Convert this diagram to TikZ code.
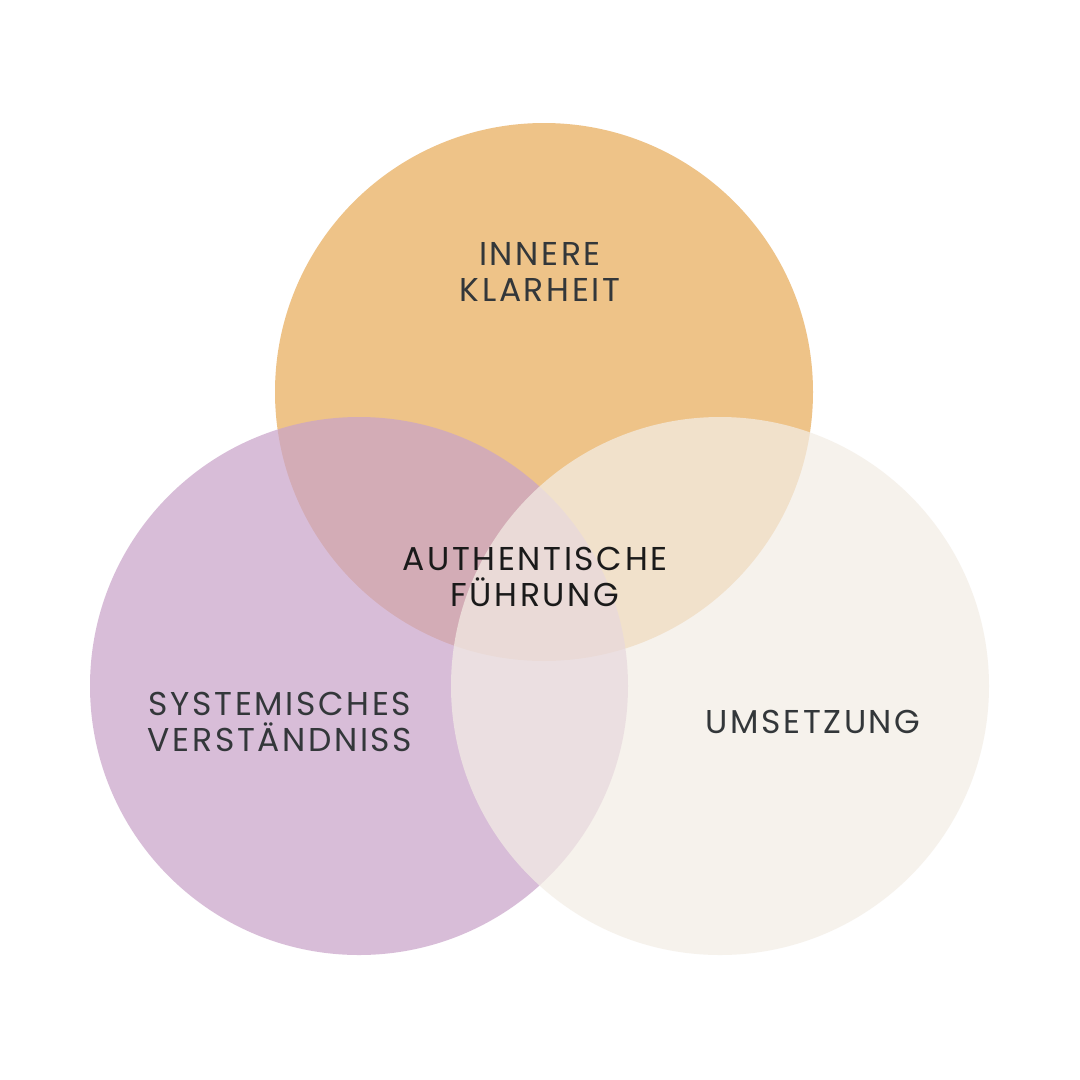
\documentclass[tikz,border=0pt]{standalone}
\usepackage{fontspec}
\setmainfont{Poppins}[LetterSpace=8]
\definecolor{orangec}{HTML}{EEC388}
\definecolor{purplec}{HTML}{C9A3C9}
\definecolor{creamc}{HTML}{F3EDE5}
\definecolor{textc}{HTML}{33373A}
\definecolor{textd}{HTML}{1A1A1A}
\begin{document}
\begin{tikzpicture}[x=1pt,y=-1pt,
  lbl/.style={font=\fontsize{33}{36.5}\selectfont, text=textc, align=center, inner sep=0pt}]
\useasboundingbox[fill=white] (0,0) rectangle (1080,1080);
\fill[orangec] (544,392) circle (269);
\fill[purplec, fill opacity=0.71] (359,686) circle (269);
\fill[creamc, fill opacity=0.72] (720,686) circle (269);
\node[lbl] (top) at (540,272) {INNERE\\KLARHEIT};
\node[lbl, text=textd] (mid) at (535,577) {AUTHENTISCHE\\FÜHRUNG};
\node[lbl] (left) at (280,722) {SYSTEMISCHES\\VERSTÄNDNISS};
\node[lbl] (right) at (813,722) {UMSETZUNG};
\end{tikzpicture}
\end{document}
